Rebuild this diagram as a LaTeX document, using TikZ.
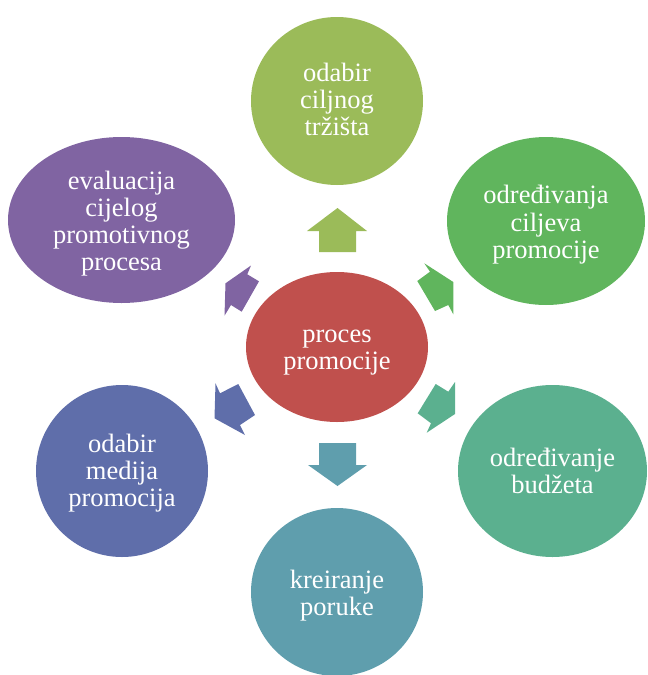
\documentclass[tikz,border=0pt]{standalone}
\usepackage{fontspec}
\setmainfont{Liberation Serif}
\usepackage{xcolor}
\usetikzlibrary{shapes.geometric}

\definecolor{cRed}{HTML}{C0504D}
\definecolor{cOlive}{HTML}{9BBB59}
\definecolor{cGreen}{HTML}{60B55D}
\definecolor{cSea}{HTML}{5BB08F}
\definecolor{cTeal}{HTML}{5F9EAD}
\definecolor{cBlue}{HTML}{5F6EAA}
\definecolor{cPurple}{HTML}{8064A2}

% struts for the first and the last text line
\newcommand{\topln}{\rule{0pt}{25.7pt}}
\newcommand{\botln}[1][7pt]{\rule[-#1]{0pt}{0pt}}

\begin{document}
\begin{tikzpicture}[x=1pt,y=-1pt,
		blob/.style={ellipse,inner sep=0pt,text=white,align=center,
			font=\fontsize{26.5}{27.2}\selectfont}]
		\useasboundingbox (0,0) rectangle (648,675);
		% centre and the six steps
		\node[blob,fill=cRed,minimum width=182,minimum height=150] (proc) at (337,347) {\topln proces\\promocije\botln};
		\node[blob,fill=cOlive,minimum width=172,minimum height=168] (trz) at (337,101) {\topln odabir\\ciljnog\\tržišta\botln[11pt]};
		\node[blob,fill=cGreen,minimum width=198,minimum height=168] (cilj) at (546,221) {\topln određivanja\\ciljeva\\promocije\botln[5pt]};
		\node[blob,fill=cSea,minimum width=189,minimum height=172] (bud) at (552.5,471) {\topln određivanje\\budžeta\botln};
		\node[blob,fill=cTeal,minimum width=172,minimum height=168] (por) at (337,592) {\topln kreiranje\\poruke\botln[4pt]};
		\node[blob,fill=cBlue,minimum width=172,minimum height=172] (med) at (122,471) {\topln odabir\\medija\\promocija\botln[9pt]};
		\node[blob,fill=cPurple,minimum width=227,minimum height=166] (eval) at (121.5,220) {\topln evaluacija\\cijelog\\promotivnog\\procesa\botln[1pt]};
		% block arrows
		\fill[cOlive] (319,252) -- (356,252) -- (356,231) -- (367,231) -- (337.5,208) -- (307,231) -- (319,231) -- cycle;
		\fill[cGreen] (424.3,263.3) -- (430,271.7) -- (417.3,281) -- (435,311) -- (448.3,305) -- (453.3,314.3) -- (453.3,282) -- cycle;
		\fill[cSea] (455,382) -- (448.3,391.7) -- (435.7,384) -- (417.7,413.3) -- (431,423.3) -- (426.7,432.7) -- (455,414) -- cycle;
		\fill[cTeal] (319,443) -- (356,443) -- (356,465) -- (367,465) -- (337.5,486) -- (308,465) -- (319,465) -- cycle;
		\fill[cBlue] (215.5,383.3) -- (220,393.3) -- (238.3,384) -- (255,415) -- (240,425) -- (245,435) -- (214.5,418.3) -- cycle;
		\fill[cPurple] (251,265.5) -- (247.3,274.3) -- (259,281.3) -- (241.7,311.7) -- (231,305) -- (224.5,315.7) -- (225.5,283.3) -- cycle;
\end{tikzpicture}
\end{document}
